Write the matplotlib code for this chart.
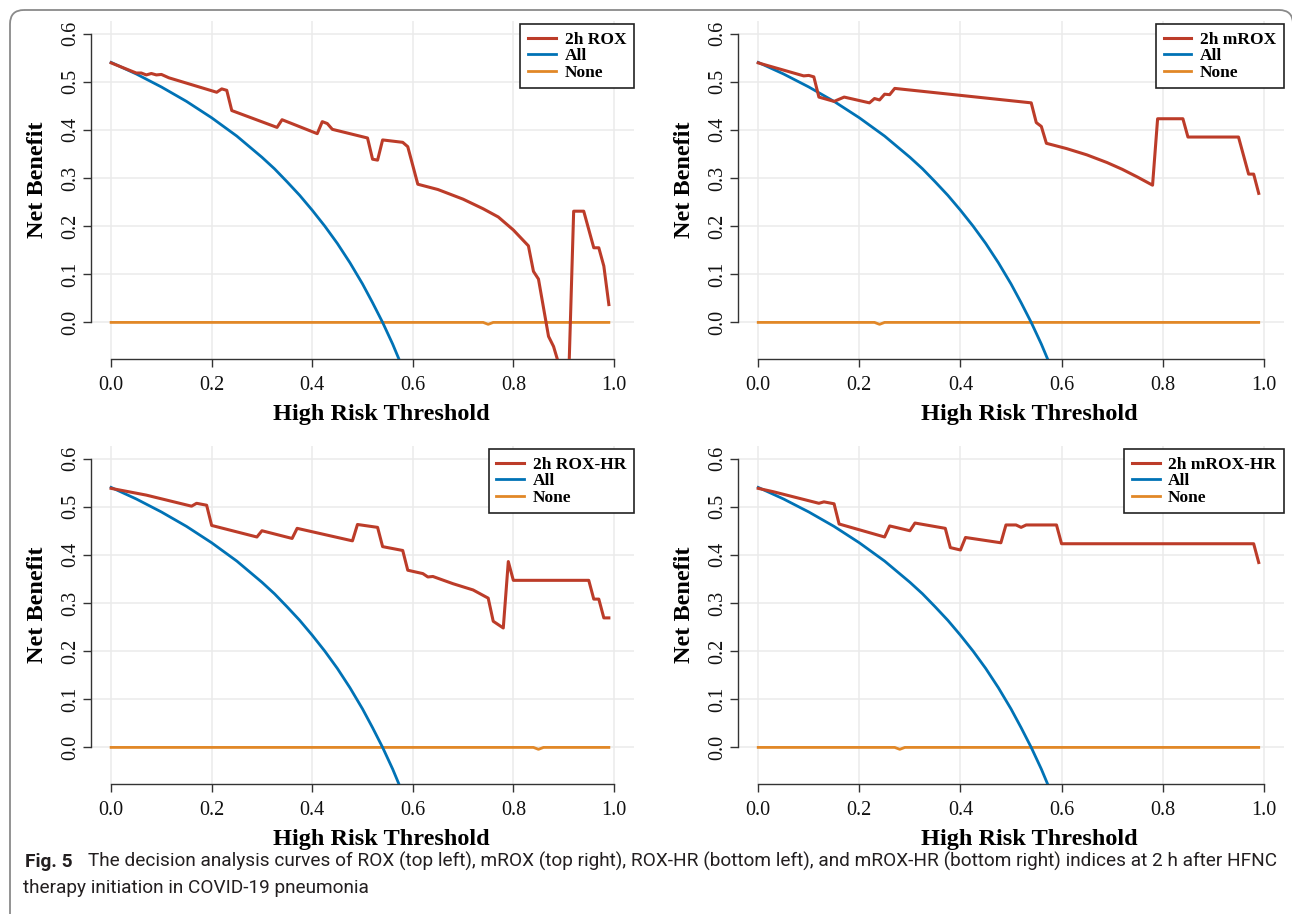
import numpy as np
import matplotlib
matplotlib.use('Agg')
import matplotlib.pyplot as plt
from matplotlib import font_manager
from matplotlib.patches import FancyBboxPatch

W, H = 1292, 914
RED = '#BC3C29'
BLUE = '#0072B5'
ORANGE = '#E18727'
AXCOL = '#333333'

plt.rcParams['font.family'] = ['Liberation Serif', 'DejaVu Serif']

# treat-all curve (same in every panel)
thr_all = [0, 0.05, 0.10, 0.15, 0.20, 0.25, 0.30, 0.325, 0.35, 0.375, 0.40, 0.425,
           0.45, 0.475, 0.50, 0.52, 0.54, 0.56, 0.58]
nb_all = [0.540, 0.516, 0.489, 0.459, 0.425, 0.387, 0.343, 0.319, 0.292, 0.264, 0.233,
          0.200, 0.164, 0.124, 0.080, 0.041, 0.000, -0.045, -0.095]

# 2h ROX (top left)
thr_rox = [0, 0.05, 0.06, 0.07, 0.08, 0.09, 0.10, 0.115, 0.21, 0.22, 0.23, 0.24, 0.33, 0.34,
           0.41, 0.42, 0.43, 0.44, 0.51, 0.52, 0.53, 0.54, 0.58, 0.59, 0.61, 0.65, 0.70, 0.74,
           0.77, 0.80, 0.83, 0.84, 0.85, 0.87, 0.88, 0.89, 0.90, 0.91, 0.92, 0.94, 0.96, 0.97,
           0.98, 0.99]
nb_rox = [0.539, 0.518, 0.518, 0.514, 0.517, 0.514, 0.515, 0.508, 0.478, 0.485, 0.482, 0.440,
          0.405, 0.421, 0.392, 0.417, 0.413, 0.401, 0.383, 0.339, 0.337, 0.379, 0.374, 0.365,
          0.287, 0.276, 0.256, 0.236, 0.219, 0.192, 0.159, 0.106, 0.090, -0.029, -0.050, -0.085,
          -0.150, -0.120, 0.231, 0.231, 0.155, 0.155, 0.117, 0.037]
thr_none_rox = [0, 0.74, 0.75, 0.76, 0.99]
nb_none_rox = [0, 0, -0.004, 0, 0]

# 2h mROX (top right)
thr_mrox = [0, 0.05, 0.09, 0.10, 0.11, 0.12, 0.15, 0.17, 0.22, 0.23, 0.24, 0.25, 0.26, 0.27,
            0.54, 0.55, 0.56, 0.57, 0.61, 0.65, 0.69, 0.72, 0.75, 0.78, 0.79, 0.84, 0.85, 0.95,
            0.97, 0.98, 0.99]
nb_mrox = [0.539, 0.524, 0.512, 0.513, 0.510, 0.468, 0.459, 0.468, 0.456, 0.465, 0.462, 0.474,
           0.473, 0.486, 0.456, 0.415, 0.407, 0.372, 0.361, 0.348, 0.332, 0.318, 0.302, 0.285,
           0.423, 0.423, 0.385, 0.385, 0.308, 0.308, 0.268]
thr_none_mrox = [0, 0.23, 0.24, 0.25, 0.99]
nb_none_mrox = [0, 0, -0.004, 0, 0]

# 2h ROX-HR (bottom left)
thr_roxhr = [0, 0.06, 0.07, 0.16, 0.17, 0.19, 0.20, 0.29, 0.30, 0.36, 0.37, 0.48, 0.49, 0.53,
             0.54, 0.58, 0.59, 0.62, 0.63, 0.64, 0.68, 0.72, 0.75, 0.76, 0.78, 0.79, 0.80, 0.95,
             0.96, 0.97, 0.98, 0.99]
nb_roxhr = [0.538, 0.526, 0.524, 0.501, 0.507, 0.503, 0.461, 0.437, 0.450, 0.434, 0.455, 0.429,
            0.463, 0.457, 0.417, 0.409, 0.368, 0.361, 0.354, 0.355, 0.340, 0.327, 0.310, 0.262,
            0.248, 0.386, 0.347, 0.347, 0.308, 0.308, 0.269, 0.269]
thr_none_roxhr = [0, 0.84, 0.85, 0.86, 0.99]
nb_none_roxhr = [0, 0, -0.004, 0, 0]

# 2h mROX-HR (bottom right)
thr_mroxhr = [0, 0.03, 0.12, 0.13, 0.15, 0.16, 0.25, 0.26, 0.30, 0.31, 0.37, 0.38, 0.40, 0.41,
              0.48, 0.49, 0.51, 0.52, 0.53, 0.59, 0.60, 0.98, 0.99]
nb_mroxhr = [0.538, 0.531, 0.507, 0.510, 0.506, 0.464, 0.437, 0.460, 0.450, 0.466, 0.455, 0.415,
             0.410, 0.436, 0.425, 0.462, 0.462, 0.457, 0.462, 0.462, 0.423, 0.423, 0.384]
thr_none_mroxhr = [0, 0.27, 0.28, 0.29, 0.99]
nb_none_mroxhr = [0, 0, -0.004, 0, 0]

xticks = [0, 0.2, 0.4, 0.6, 0.8, 1.0]
yticks = [0, 0.1, 0.2, 0.3, 0.4, 0.5, 0.6]

# (label, x, y, none x, none y, left px, top px, width px)
panels = [
    ('2h ROX', thr_rox, nb_rox, thr_none_rox, nb_none_rox, 91, 21, 543),
    ('2h mROX', thr_mrox, nb_mrox, thr_none_mrox, nb_none_mrox, 738, 21, 546),
    ('2h ROX-HR', thr_roxhr, nb_roxhr, thr_none_roxhr, nb_none_roxhr, 91, 446, 543),
    ('2h mROX-HR', thr_mroxhr, nb_mroxhr, thr_none_mroxhr, nb_none_mroxhr, 738, 446, 546),
]
AH = 338

fig = plt.figure(figsize=(W / 100, H / 100), dpi=100)

# outer frame + caption, in pixel coordinates
bg = fig.add_axes([0, 0, 1, 1], zorder=-5)
bg.set_xlim(0, W)
bg.set_ylim(H, 0)
bg.axis('off')
bg.add_patch(FancyBboxPatch((10, 10), W - 9, H + 40,
                            boxstyle='round,pad=0,rounding_size=14',
                            fill=False, ec='#8a8a8a', lw=1.3, clip_on=False))

for lab, xs, ys, xn, yn, left, top, aw in panels:
    ax = fig.add_axes([left / W, 1 - (top + AH) / H, aw / W, AH / H])
    l_none, = ax.plot(xn, yn, color=ORANGE, lw=2.0, zorder=3)
    l_all, = ax.plot(thr_all, nb_all, color=BLUE, lw=2.0, zorder=4)
    l_mod, = ax.plot(xs, ys, color=RED, lw=2.2, zorder=5)

    ax.set_xlim(-0.04, 1.04)
    ax.set_ylim(-0.076, 0.626)
    ax.set_xticks(xticks)
    ax.set_xticklabels(['%.1f' % v for v in xticks])
    ax.set_yticks(yticks)
    ax.set_yticklabels(['%.1f' % v for v in yticks])
    ax.grid(True, color='#EBEBEB', lw=1.1)
    ax.set_axisbelow(True)

    for s in ['top', 'right']:
        ax.spines[s].set_visible(False)
    ax.spines['left'].set_bounds(0, 0.6)
    ax.spines['bottom'].set_bounds(0, 1)
    for s in ['left', 'bottom']:
        ax.spines[s].set_color(AXCOL)
        ax.spines[s].set_linewidth(1.0)

    ax.tick_params(length=5.5, width=1.0, color=AXCOL, labelsize=14.5, labelcolor='#111111')
    ax.tick_params(axis='x', pad=7)
    ax.tick_params(axis='y', pad=2.5, labelrotation=90)
    for t in ax.get_yticklabels():
        t.set_va('center')

    ax.set_xlabel('High Risk Threshold', fontsize=17.5, fontweight='bold', va='baseline')
    ax.xaxis.set_label_coords(0.534, -0.179)
    ax.set_ylabel('Net Benefit', fontsize=17.5, fontweight='bold', va='baseline')
    ax.yaxis.set_label_coords(-0.0875, 0.531)

    leg = ax.legend([l_mod, l_all, l_none], [lab, 'All', 'None'],
                    loc='upper right', bbox_to_anchor=(1.0, 0.99), borderaxespad=0,
                    fancybox=False, edgecolor='#222222', framealpha=1,
                    prop={'family': 'Liberation Serif', 'weight': 'bold', 'size': 12.5},
                    handlelength=1.6, handletextpad=0.5, borderpad=0.45, labelspacing=0.0)
    leg.get_frame().set_linewidth(1.2)

# caption
names = {f.name for f in font_manager.fontManager.ttflist}
cap_font = 'Liberation Sans Narrow' if 'Liberation Sans Narrow' in names else 'Roboto'
cap1 = ('The decision analysis curves of ROX (top left), mROX (top right), ROX-HR (bottom left), '
        'and mROX-HR (bottom right) indices at 2 h after HFNC')
cap2 = 'therapy initiation in COVID-19 pneumonia'
size = 14
kw = dict(family=cap_font, fontsize=size, va='baseline', color='#231F20')
t0 = bg.text(25, 867, 'Fig. 5', fontweight='bold', **kw)
t1 = bg.text(72, 867, cap1, **kw)
t2 = bg.text(23, 893, cap2, **kw)
fig.canvas.draw()
r = fig.canvas.get_renderer()
gap = 0.8 * size * 100 / 72
scale = (1286 - 25) / (t0.get_window_extent(r).width + gap + t1.get_window_extent(r).width)
for t in (t0, t1, t2):
    t.set_fontsize(size * scale)
fig.canvas.draw()
t1.set_x(25 + t0.get_window_extent(r).width + gap * scale)

fig.savefig('out.png', dpi=100)
